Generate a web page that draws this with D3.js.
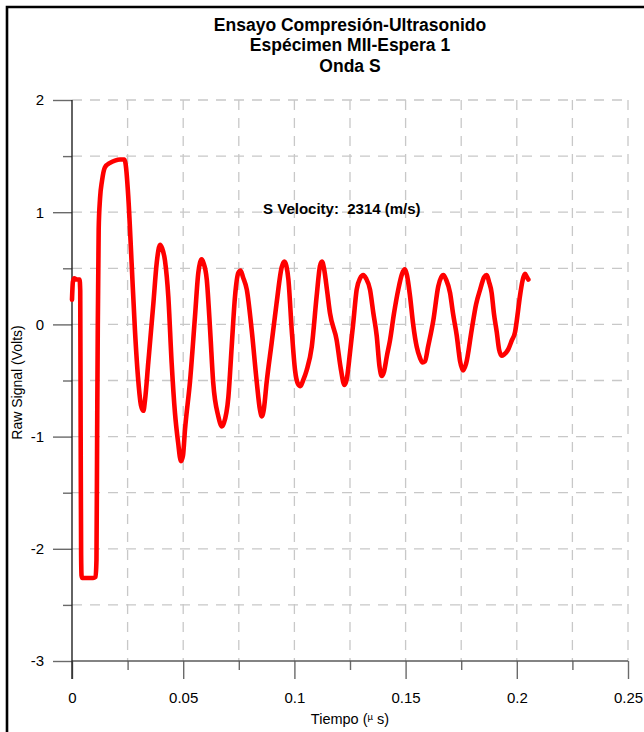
<!DOCTYPE html>
<html>
<head>
<meta charset="utf-8">
<script src="https://cdn.jsdelivr.net/npm/d3@7"></script>
<style>
  html, body { margin: 0; padding: 0; background: #fff; }
  svg { display: block; font-family: Arial, "Liberation Sans", sans-serif; }
</style>
</head>
<body>
<svg id="chart" width="644" height="732"></svg>
<script>
// Chart text
const titleLines = ["Ensayo Compresión-Ultrasonido", "Espécimen MII-Espera 1", "Onda S"];
const velocityLabel = "S Velocity:  2314 (m/s)";
const yTitle = "Raw Signal (Volts)";

// Waveform samples: time (µs) and raw signal (V)
const timeUs = [
  0.0000, 0.0004, 0.0010, 0.0022, 0.0034, 0.0037, 0.0039, 0.0041, 0.0043, 0.0046,
  0.0070, 0.0095, 0.0106, 0.0110, 0.0113, 0.0116, 0.0120, 0.0126, 0.0135, 0.0148,
  0.0171, 0.0193, 0.0216, 0.0236, 0.0241, 0.0253, 0.0268, 0.0283, 0.0298, 0.0310,
  0.0321, 0.0328, 0.0343, 0.0366, 0.0381, 0.0396, 0.0405, 0.0418, 0.0433, 0.0448,
  0.0463, 0.0477, 0.0490, 0.0499, 0.0508, 0.0531, 0.0553, 0.0568, 0.0583, 0.0591,
  0.0606, 0.0621, 0.0635, 0.0658, 0.0674, 0.0683, 0.0703, 0.0718, 0.0733, 0.0748,
  0.0758, 0.0769, 0.0786, 0.0808, 0.0830, 0.0845, 0.0854, 0.0863, 0.0875, 0.0898,
  0.0920, 0.0943, 0.0955, 0.0964, 0.0973, 0.0988, 0.1003, 0.1016, 0.1027, 0.1039,
  0.1055, 0.1078, 0.1100, 0.1115, 0.1124, 0.1133, 0.1147, 0.1160, 0.1190, 0.1209,
  0.1225, 0.1236, 0.1250, 0.1264, 0.1280, 0.1295, 0.1310, 0.1322, 0.1340, 0.1355,
  0.1370, 0.1383, 0.1393, 0.1403, 0.1416, 0.1430, 0.1448, 0.1467, 0.1484, 0.1497,
  0.1506, 0.1520, 0.1534, 0.1550, 0.1565, 0.1576, 0.1587, 0.1601, 0.1625, 0.1647,
  0.1660, 0.1670, 0.1682, 0.1700, 0.1713, 0.1730, 0.1745, 0.1758, 0.1772, 0.1797,
  0.1817, 0.1835, 0.1853, 0.1865, 0.1875, 0.1887, 0.1897, 0.1910, 0.1920, 0.1932,
  0.1942, 0.1962, 0.1978, 0.1992, 0.2003, 0.2014, 0.2027, 0.2037, 0.2046, 0.2052
];
const rawSignal = [
  0.22, 0.38, 0.41, 0.40, 0.40, 0.30, -1.00, -2.05, -2.24, -2.26,
  -2.26, -2.26, -2.25, -2.10, -1.00, 0.00, 0.85, 1.12, 1.28, 1.40,
  1.44, 1.46, 1.47, 1.47, 1.43, 1.14, 0.55, -0.05, -0.50, -0.72,
  -0.77, -0.68, -0.34, 0.19, 0.55, 0.71, 0.68, 0.57, 0.25, -0.34,
  -0.79, -1.05, -1.22, -1.17, -0.94, -0.50, 0.07, 0.46, 0.58, 0.55,
  0.40, -0.05, -0.52, -0.82, -0.91, -0.88, -0.65, -0.20, 0.25, 0.46,
  0.48, 0.42, 0.31, -0.05, -0.50, -0.76, -0.82, -0.75, -0.52, -0.16,
  0.19, 0.51, 0.56, 0.52, 0.40, -0.05, -0.41, -0.53, -0.55, -0.50,
  -0.41, -0.20, 0.25, 0.52, 0.56, 0.50, 0.30, 0.10, -0.14, -0.40,
  -0.54, -0.48, -0.25, 0.00, 0.31, 0.41, 0.44, 0.41, 0.31, 0.10,
  -0.10, -0.38, -0.46, -0.42, -0.28, -0.14, 0.10, 0.31, 0.45, 0.49,
  0.44, 0.25, 0.00, -0.20, -0.30, -0.34, -0.33, -0.20, 0.04, 0.34,
  0.42, 0.44, 0.40, 0.28, 0.10, -0.10, -0.33, -0.41, -0.35, -0.05,
  0.18, 0.31, 0.42, 0.44, 0.38, 0.28, 0.10, -0.07, -0.22, -0.28,
  -0.27, -0.22, -0.14, -0.07, 0.08, 0.25, 0.40, 0.45, 0.42, 0.40
];

// Axis ticks
const xMajorTicks = [0, 0.05, 0.1, 0.15, 0.2, 0.25];
const xMinorTicks = [0.025, 0.075, 0.125, 0.175, 0.225];
const xGridTicks = [0.025, 0.05, 0.075, 0.1, 0.125, 0.15, 0.175, 0.2, 0.225, 0.25];
const yMajorTicks = [-3, -2, -1, 0, 1, 2];
const yMinorTicks = [-2.5, -1.5, -0.5, 0.5, 1.5];
const yGridTicks = [-2.5, -2, -1.5, -1, -0.5, 0, 0.5, 1, 1.5, 2];

const svg = d3.select("#chart");
const plot = { left: 72, right: 628, top: 100, bottom: 661 };

const x = d3.scaleLinear().domain([0, 0.25]).range([plot.left, plot.right]);
const y = d3.scaleLinear().domain([-3, 2]).range([plot.bottom, plot.top]);

// Outer frame (top and left edges)
svg.append("path")
  .attr("d", "M7,732 L7,7 L644,7")
  .attr("fill", "none")
  .attr("stroke", "#000")
  .attr("stroke-width", 2.6);

// Title
const title = svg.append("text")
  .attr("text-anchor", "middle")
  .attr("font-weight", "bold")
  .attr("font-size", "17.5px")
  .attr("fill", "#000");
titleLines.forEach((line, i) => {
  title.append("tspan")
    .attr("x", 350)
    .attr("y", [31, 51, 72][i])
    .text(line);
});

// Dashed grid
const grid = svg.append("g")
  .attr("stroke", "#c8c8c8")
  .attr("stroke-width", 1.3)
  .attr("stroke-dasharray", "10,8");
grid.selectAll("line.h").data(yGridTicks).join("line")
  .attr("class", "h")
  .attr("x1", plot.left).attr("x2", plot.right)
  .attr("y1", d => y(d)).attr("y2", d => y(d));
grid.selectAll("line.v").data(xGridTicks).join("line")
  .attr("class", "v")
  .attr("x1", d => x(d)).attr("x2", d => x(d))
  .attr("y1", plot.top).attr("y2", plot.bottom);

// Tick labels use a plain hyphen for negatives
const plainFormat = d => String(d);

// Y axis
const yAxisG = svg.append("g").attr("transform", `translate(${plot.left},0)`);
yAxisG.append("g")
  .call(d3.axisLeft(y).tickValues(yMinorTicks).tickSize(9).tickSizeOuter(0).tickFormat(""))
  .call(g => g.select(".domain").remove());
yAxisG.append("g")
  .call(d3.axisLeft(y).tickValues(yMajorTicks).tickSize(19).tickSizeOuter(0).tickPadding(9)
    .tickFormat(plainFormat))
  .call(g => g.select(".domain").remove())
  .call(g => g.selectAll("text").attr("font-size", "15px").attr("fill", "#000")
    .attr("font-family", "Arial, 'Liberation Sans', sans-serif"));
yAxisG.selectAll(".tick line").attr("stroke", "#6a6a6a").attr("stroke-width", 1.4);

// X axis
const xAxisG = svg.append("g").attr("transform", `translate(0,${plot.bottom})`);
xAxisG.append("g")
  .call(d3.axisBottom(x).tickValues(xMinorTicks).tickSize(9).tickSizeOuter(0).tickFormat(""))
  .call(g => g.select(".domain").remove());
xAxisG.append("g")
  .call(d3.axisBottom(x).tickValues(xMajorTicks).tickSize(18).tickSizeOuter(0).tickPadding(13)
    .tickFormat(plainFormat))
  .call(g => g.select(".domain").remove())
  .call(g => g.selectAll("text").attr("font-size", "15px").attr("fill", "#000")
    .attr("font-family", "Arial, 'Liberation Sans', sans-serif"));
xAxisG.selectAll(".tick line").attr("stroke", "#6a6a6a").attr("stroke-width", 1.4);

// Axis lines
svg.append("line")
  .attr("x1", x(0)).attr("x2", x(0.25))
  .attr("y1", y(-3)).attr("y2", y(-3))
  .attr("stroke", "#5a5a5a").attr("stroke-width", 1.5);
svg.append("line")
  .attr("x1", x(0)).attr("x2", x(0))
  .attr("y1", y(2)).attr("y2", y(-3) + 18)
  .attr("stroke", "#222").attr("stroke-width", 1.4);

// Axis titles
const xTitle = svg.append("text")
  .attr("x", 350).attr("y", 724)
  .attr("text-anchor", "middle")
  .attr("font-size", "14.5px")
  .attr("fill", "#000");
xTitle.append("tspan").text("Tiempo (");
xTitle.append("tspan").attr("font-size", "9.5px").attr("dy", -4).text("µ");
xTitle.append("tspan").attr("dy", 4).text(" s)");

svg.append("text")
  .attr("transform", `translate(22,${(plot.top + plot.bottom) / 2 + 2}) rotate(-90)`)
  .attr("text-anchor", "middle")
  .attr("font-size", "14px")
  .attr("fill", "#000")
  .text(yTitle);

// Waveform
const samples = timeUs.map((t, i) => ({ t, v: rawSignal[i] }));
const line = d3.line()
  .x(d => x(d.t))
  .y(d => y(d.v))
  .curve(d3.curveMonotoneX);
svg.append("path")
  .datum(samples)
  .attr("d", line)
  .attr("fill", "none")
  .attr("stroke", "#ff0000")
  .attr("stroke-width", 4.6)
  .attr("stroke-linejoin", "round")
  .attr("stroke-linecap", "round");

// Velocity annotation
svg.append("text")
  .attr("x", x(0.0859))
  .attr("y", y(0.983))
  .attr("font-size", "15px")
  .attr("font-weight", "bold")
  .attr("fill", "#000")
  .style("white-space", "pre")
  .text(velocityLabel);
</script>
</body>
</html>
